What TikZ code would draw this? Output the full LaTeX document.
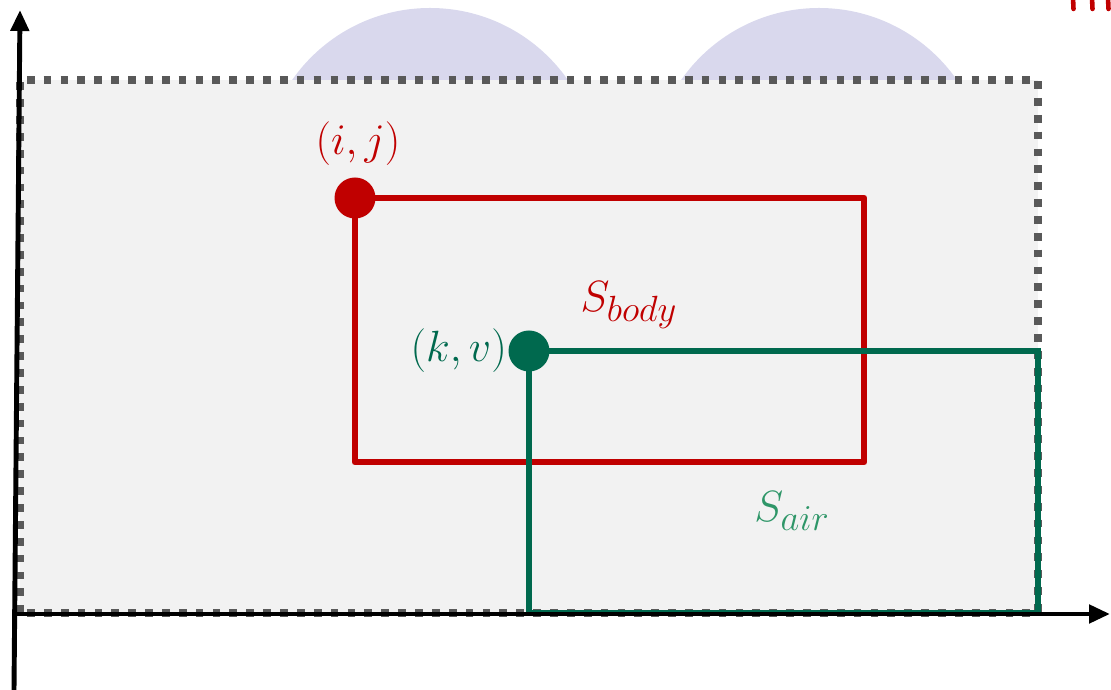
\documentclass[tikz,border=0pt]{standalone}
\usetikzlibrary{arrows.meta,positioning}
\definecolor{bodyred}{RGB}{192,0,0}
\definecolor{airgreen}{RGB}{0,105,78}
\definecolor{airtext}{RGB}{46,150,104}
\definecolor{bumpblue}{RGB}{217,216,237}
\definecolor{edgegray}{RGB}{89,89,89}
\tikzset{
  bump/.style={fill=bumpblue, draw=none},
  region/.style={fill=black!5, draw=none},
  regionedge/.style={draw=edgegray, line width=4.2pt, dash pattern=on 4.4pt off 5.2pt},
  axisline/.style={draw=black, line width=2.8pt, -{Triangle[length=0.42cm, width=0.36cm]}},
  bodybox/.style={draw=bodyred, line width=3.9pt, line join=round},
  airbox/.style={draw=airgreen, line width=3.9pt, line join=miter},
  cornerdot/.style={circle, inner sep=0pt, minimum size=0.82cm},
  bodylabel/.style={text=bodyred, font=\fontsize{24}{28}\selectfont, inner sep=0pt},
  airlabel/.style={text=airgreen, font=\fontsize{25}{30}\selectfont, inner sep=0pt},
  setname/.style={font=\fontsize{29}{34}\selectfont, inner sep=0pt},
  scrap/.style={draw=bodyred, line width=2.6pt, line cap=round},
}

\begin{document}
\begin{tikzpicture}
\useasboundingbox (0,0) rectangle (22.22,13.80);
\begin{scope}
\clip (0,0) rectangle (22.22,13.80);
\fill[bump] (8.60,10.28) circle (3.36);
\fill[bump] (16.38,10.28) circle (3.36);
\fill[region] (0.40,1.54) rectangle (20.76,12.20);
\draw[regionedge] (0.40,1.54) rectangle (20.76,12.20);
% cut off marks top right
\draw[scrap] (21.46,13.85) -- (21.47,13.62);
\draw[scrap] (21.84,13.85) -- (21.85,13.62);
\draw[scrap] (22.16,13.85) -- (22.17,13.62);
\end{scope}
\draw[bodybox] (7.10,4.56) rectangle (17.28,9.84);
\draw[airbox] (10.58,1.54) -- (10.58,6.78) -- (20.76,6.78) -- (20.76,1.54) -- cycle;
\coordinate (yfoot) at (0.28,0);
\coordinate (ytop) at (0.40,13.60);
\coordinate (xfoot) at (0.28,1.52);
\coordinate (xend) at (22.20,1.52);
\draw[axisline] (yfoot) -- (ytop);
\draw[axisline] (xfoot) -- (xend);
\node[cornerdot, fill=bodyred] (ij) at (7.10,9.84) {};
\node[cornerdot, fill=airgreen] (kv) at (10.58,6.78) {};
\node[bodylabel] (ijlabel) at (7.16,10.92) {$(i,j)$};
\node[setname, text=bodyred] (sbody) at (12.58,7.70) {$S_{body}$};
\node[airlabel, left=0.02cm of kv] (kvlabel) {$(k,v)$};
\node[setname, text=airtext] (sair) at (15.84,3.58) {$S_{air}$};
\end{tikzpicture}
\end{document}
